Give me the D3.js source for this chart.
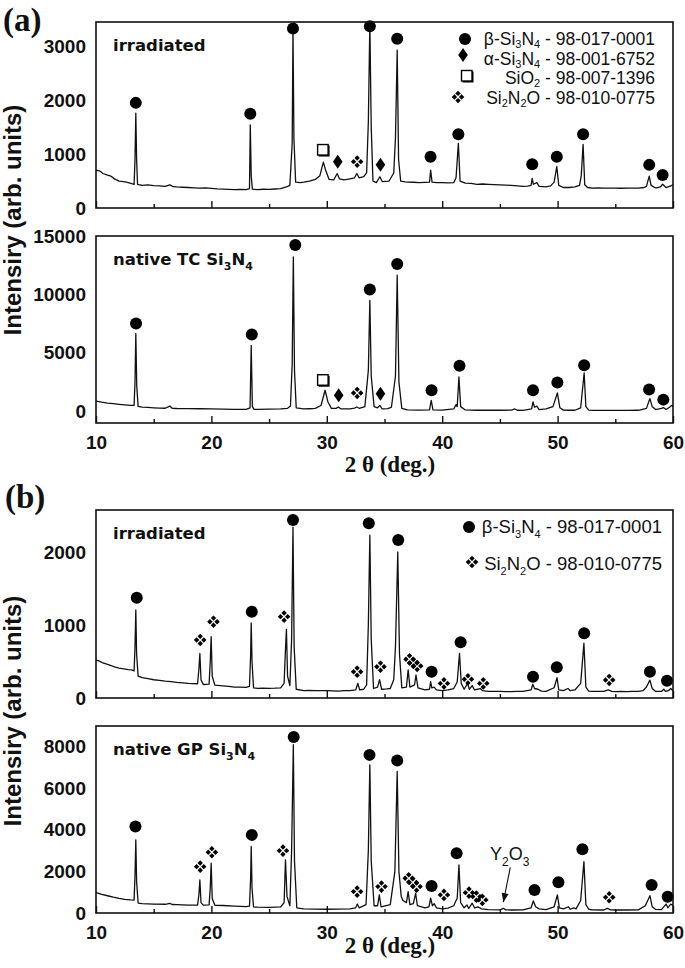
<!DOCTYPE html>
<html>
<head>
<meta charset="utf-8">
<script src="https://cdn.jsdelivr.net/npm/d3@7"></script>
<style>
  html, body { margin: 0; padding: 0; background: #fff; }
  svg { display: block; }
</style>
</head>
<body>
<svg id="chart" width="685" height="968"></svg>
<script>
// ---------------- DATA ----------------
const xMajorTicks = [10, 20, 30, 40, 50, 60];
const xMinorTicks = [15, 25, 35, 45, 55];
const yTicksIrrA = [0, 1000, 2000, 3000];
const yTicksNatA = [0, 5000, 10000, 15000];
const yTicksIrrB = [0, 1000, 2000];
const yTicksNatB = [0, 2000, 4000, 6000, 8000];

// Panel (a) irradiated: [2theta, intensity]
const irrA = [[10.0,700],[10.3,690],[10.6,640],[11.0,610],[11.3,590],[11.6,540],[12.0,500],[12.4,490],[12.8,470],[13.1,450],[13.3,440],[13.38,900],[13.45,1760],[13.52,900],[13.6,440],[14.0,420],[14.5,430],[15,415],[15.5,410],[16,400],[16.4,430],[16.7,395],[17,390],[17.5,385],[18,380],[18.5,375],[19,370],[19.5,372],[20,365],[20.5,355],[21,350],[21.5,345],[22,340],[22.5,345],[23,340],[23.3,360],[23.37,1540],[23.45,600],[23.55,350],[24,340],[24.5,348],[25,345],[25.5,352],[26,360],[26.5,390],[26.8,420],[27.0,1200],[27.07,3300],[27.15,1300],[27.3,480],[27.7,470],[28,480],[28.5,500],[29.0,530],[29.4,600],[29.7,850],[29.9,700],[30.2,530],[30.6,520],[30.9,640],[31.1,540],[31.5,520],[32,540],[32.4,560],[32.6,640],[32.8,560],[33.2,580],[33.45,650],[33.6,1600],[33.73,3420],[33.85,1500],[34.0,500],[34.3,470],[34.6,580],[34.8,490],[35.1,495],[35.4,500],[35.8,650],[35.95,1300],[36.1,2930],[36.22,900],[36.4,500],[36.8,485],[37,480],[37.5,478],[38,470],[38.5,475],[38.9,480],[39.0,700],[39.12,480],[39.5,470],[40,470],[40.5,465],[41,470],[41.2,560],[41.4,1200],[41.55,500],[42,460],[42.5,455],[43,440],[43.5,445],[44,440],[44.5,435],[45,430],[45.5,425],[46,420],[46.5,410],[47,400],[47.4,405],[47.7,420],[47.8,550],[47.9,440],[48.2,470],[48.4,400],[48.7,395],[49,390],[49.4,410],[49.7,480],[49.93,770],[50.1,420],[50.5,380],[51,380],[51.5,390],[51.9,420],[52.05,600],[52.21,1180],[52.35,430],[52.6,380],[53,370],[53.5,372],[54,370],[54.5,368],[55,370],[55.5,366],[56,370],[56.5,368],[57,370],[57.5,380],[57.7,400],[57.94,590],[58.1,420],[58.5,370],[58.9,390],[59.1,440],[59.4,380],[59.7,400],[60,430]];

// Panel (a) native TC Si3N4
const natA = [[10,880],[10.5,780],[11,700],[11.5,650],[12,600],[12.5,550],[13,510],[13.3,500],[13.38,2500],[13.45,6660],[13.53,2200],[13.65,420],[14,360],[14.5,330],[15,300],[15.5,280],[16,260],[16.4,450],[16.6,260],[17,240],[18,230],[19,220],[20,200],[21,180],[22,170],[23,170],[23.35,300],[23.45,5650],[23.55,400],[23.7,160],[24,160],[25,180],[26,200],[26.6,260],[26.85,450],[27.0,4000],[27.1,13220],[27.2,3500],[27.35,300],[28,200],[28.5,220],[29,250],[29.5,500],[29.85,1800],[30.1,800],[30.4,250],[30.8,250],[31.0,370],[31.2,220],[32,200],[32.4,280],[32.6,370],[32.8,260],[33.3,400],[33.6,3500],[33.73,9500],[33.85,3000],[34.1,400],[34.4,300],[34.6,510],[34.8,200],[35.3,230],[35.6,350],[35.95,3000],[36.1,11650],[36.25,2500],[36.5,250],[37,120],[38,100],[38.9,130],[39.05,940],[39.2,130],[40,100],[41,200],[41.2,570],[41.3,400],[41.45,2940],[41.6,400],[42,120],[43,90],[44,110],[45,90],[46,100],[46.3,200],[46.5,90],[47,80],[47.75,200],[47.87,800],[48.0,350],[48.2,450],[48.4,150],[49,200],[49.6,400],[49.98,1570],[50.2,300],[50.5,100],[51,90],[51.5,90],[52.0,300],[52.3,3280],[52.45,400],[52.7,100],[53,80],[54,80],[55,80],[56,80],[57,90],[57.7,250],[58.0,1090],[58.2,400],[58.5,150],[59,250],[59.16,320],[59.4,150],[59.7,350],[59.9,510],[60,400]];

// Panel (b) irradiated
const irrB = [[10,520],[10.3,505],[10.6,480],[11,460],[11.3,445],[11.6,425],[12,410],[12.4,400],[12.8,390],[13.1,384],[13.3,370],[13.38,700],[13.45,1205],[13.52,600],[13.65,300],[14,280],[14.5,265],[15,250],[15.5,240],[16,230],[16.5,225],[17,215],[17.5,208],[18,200],[18.8,195],[18.92,400],[19.0,610],[19.1,250],[19.3,185],[19.8,190],[19.9,500],[19.98,840],[20.07,300],[20.3,175],[21,165],[21.5,158],[22,150],[22.5,148],[23,145],[23.3,160],[23.4,600],[23.45,1030],[23.52,500],[23.65,140],[24,133],[24.5,136],[25,133],[25.5,135],[26,140],[26.3,200],[26.4,600],[26.5,940],[26.6,300],[26.8,170],[26.95,800],[27.07,2340],[27.17,700],[27.35,120],[28,100],[28.5,105],[29,100],[29.5,102],[30,100],[30.5,98],[31,95],[31.5,100],[32,100],[32.5,110],[32.69,200],[32.85,110],[33.2,120],[33.45,180],[33.6,1000],[33.73,2230],[33.85,800],[34.05,130],[34.4,150],[34.57,250],[34.75,120],[35.2,125],[35.5,130],[35.8,250],[35.95,700],[36.15,2000],[36.3,600],[36.5,140],[36.9,150],[37.05,385],[37.2,150],[37.6,180],[37.73,315],[37.9,140],[38.5,110],[38.9,120],[39.0,225],[39.1,140],[39.3,150],[39.5,110],[40,100],[40.5,110],[41,130],[41.3,220],[41.5,610],[41.65,200],[41.9,120],[42.2,200],[42.35,120],[42.6,170],[42.8,110],[43.3,130],[43.5,100],[44,90],[44.5,92],[45,90],[45.5,88],[46,88],[46.5,90],[47,90],[47.7,110],[47.85,190],[48.0,130],[48.3,120],[48.6,95],[49,90],[49.7,140],[49.95,280],[50.1,110],[50.5,100],[50.9,130],[51.1,100],[51.5,110],[52.0,200],[52.28,750],[52.45,150],[52.7,95],[53,90],[53.5,92],[54,90],[54.4,110],[54.7,90],[55,88],[55.5,90],[56,88],[56.5,90],[57,90],[57.4,100],[57.7,150],[58.0,245],[58.2,130],[58.5,90],[59,90],[59.2,120],[59.35,90],[59.6,100],[59.8,130],[60,100]];

// Panel (b) native GP Si3N4
const natB = [[10,980],[10.5,900],[11,830],[11.5,760],[12,700],[12.5,660],[13,630],[13.3,620],[13.38,1800],[13.45,3520],[13.52,1500],[13.65,480],[14,450],[15,430],[16,420],[16.4,460],[16.6,410],[17,400],[18,380],[18.8,380],[18.92,900],[19.0,1590],[19.1,500],[19.3,380],[19.8,390],[19.9,1200],[19.98,2400],[20.07,700],[20.3,370],[21,360],[22,330],[23,310],[23.3,330],[23.4,1700],[23.45,3200],[23.52,1200],[23.65,290],[24,280],[25,270],[26,290],[26.3,500],[26.42,2550],[26.55,800],[26.8,350],[26.95,3000],[27.1,8100],[27.2,2500],[27.4,250],[28,200],[29,190],[30,180],[31,190],[32,200],[32.5,250],[32.65,430],[32.8,250],[33.4,400],[33.6,3000],[33.73,7130],[33.85,2500],[34.1,350],[34.4,350],[34.55,870],[34.7,300],[35.5,400],[35.9,2000],[36.1,6810],[36.25,2000],[36.45,800],[36.6,600],[36.9,500],[37.05,1030],[37.2,400],[37.5,450],[37.7,950],[37.85,350],[38.5,250],[38.85,300],[39.0,710],[39.15,350],[39.3,450],[39.5,250],[40,200],[40.5,230],[41.0,350],[41.15,545],[41.3,700],[41.45,2310],[41.6,500],[41.9,250],[42.15,385],[42.3,220],[42.6,470],[42.8,250],[43.1,300],[43.4,200],[44,160],[45,150],[45.3,225],[45.5,150],[46,145],[47,150],[47.7,250],[47.9,580],[48.1,300],[48.4,200],[49,160],[49.7,300],[49.98,870],[50.15,250],[50.5,200],[50.95,300],[51.1,180],[51.4,250],[51.6,200],[52.0,600],[52.28,2470],[52.45,400],[52.7,180],[53,150],[54,145],[54.3,225],[54.6,150],[55,145],[56,145],[57,150],[57.6,350],[58.0,835],[58.2,300],[58.5,170],[59,160],[59.4,430],[59.55,250],[59.8,430],[60,350]];

// Phase markers: [2theta, intensity, type]  b = beta-Si3N4, a = alpha-Si3N4, s = SiO2, o = Si2N2O
const markIrrA = [[13.45,1950,"b"],[23.37,1750,"b"],[27.07,3330,"b"],[29.68,1075,"s"],[30.95,860,"a"],[32.63,860,"o"],[33.73,3370,"b"],[34.65,800,"a"],[36.1,3140,"b"],[38.99,950,"b"],[41.4,1370,"b"],[47.8,810,"b"],[49.93,950,"b"],[52.21,1370,"b"],[57.94,800,"b"],[59.1,610,"b"]];
const markNatA = [[13.47,7510,"b"],[23.5,6570,"b"],[27.27,14230,"b"],[29.68,2660,"s"],[31.03,1370,"a"],[32.63,1570,"o"],[33.73,10430,"b"],[34.65,1510,"a"],[36.1,12600,"b"],[39.08,1800,"b"],[41.5,3890,"b"],[47.87,1800,"b"],[49.98,2460,"b"],[52.3,3940,"b"],[57.93,1860,"b"],[59.16,1000,"b"]];
const markIrrB = [[13.53,1374,"b"],[19.03,795,"o"],[20.18,1045,"o"],[23.5,1182,"b"],[26.3,1114,"o"],[27.07,2438,"b"],[32.63,360,"o"],[33.64,2393,"b"],[34.65,429,"o"],[36.19,2164,"b"],[37.17,530,"o"],[37.5,480,"o"],[37.83,438,"o"],[39.08,360,"b"],[40.15,200,"o"],[41.6,763,"b"],[42.23,256,"o"],[43.56,200,"o"],[47.87,292,"b"],[49.93,420,"b"],[52.3,886,"b"],[54.47,247,"o"],[58.0,360,"b"],[59.48,237,"b"]];
const markNatB = [[13.42,4160,"b"],[19.03,2230,"o"],[20.04,2925,"o"],[23.5,3760,"b"],[26.2,3000,"o"],[27.13,8470,"b"],[32.63,1030,"o"],[33.7,7610,"b"],[34.74,1270,"o"],[36.1,7340,"b"],[37.1,1670,"o"],[37.45,1470,"o"],[37.78,1270,"o"],[39.08,1300,"b"],[40.15,870,"o"],[41.25,2877,"b"],[42.32,980,"o"],[42.96,790,"o"],[43.48,630,"o"],[48.0,1110,"b"],[50.07,1480,"b"],[52.15,3070,"b"],[54.47,757,"o"],[58.15,1350,"b"],[59.54,785,"b"]];

// Legends
const legendA = [
  {type:"b", parts:[["β-Si",""],["3","sub"],["N",""],["4","sub"],[" - 98-017-0001",""]]},
  {type:"a", parts:[["α-Si",""],["3","sub"],["N",""],["4","sub"],[" - 98-001-6752",""]]},
  {type:"s", parts:[["SiO",""],["2","sub"],[" - 98-007-1396",""]]},
  {type:"o", parts:[["Si",""],["2","sub"],["N",""],["2","sub"],["O - 98-010-0775",""]]}
];
const legendB = [
  {type:"b", parts:[["β-Si",""],["3","sub"],["N",""],["4","sub"],[" - 98-017-0001",""]]},
  {type:"o", parts:[["Si",""],["2","sub"],["N",""],["2","sub"],["O - 98-010-0775",""]]}
];

// ---------------- DRAW ----------------
const svg = d3.select("#chart");
const L = 96, R = 673;
const x = d3.scaleLinear().domain([10, 60]).range([L, R]);

const panels = [
  {data: irrA, marks: markIrrA, top: 22,  bottom: 208, domain: [0, 3450],      ticks: yTicksIrrA, xlabels: false, label: [["irradiated",""]]},
  {data: natA, marks: markNatA, top: 236, bottom: 423, domain: [-1000, 15000], ticks: yTicksNatA, xlabels: true,  label: [["native TC Si",""],["3","sub"],["N",""],["4","sub"]]},
  {data: irrB, marks: markIrrB, top: 510, bottom: 698, domain: [0, 2575],      ticks: yTicksIrrB, xlabels: false, label: [["irradiated",""]]},
  {data: natB, marks: markNatB, top: 726, bottom: 913, domain: [0, 9000],      ticks: yTicksNatB, xlabels: true,  label: [["native GP Si",""],["3","sub"],["N",""],["4","sub"]]}
];

function drawMarker(g, type, cx, cy) {
  if (type === "b") {
    g.append("circle").attr("cx", cx).attr("cy", cy).attr("r", 6).attr("fill", "#000");
  } else if (type === "a") {
    g.append("path").attr("d", `M${cx},${cy-7}L${cx+4.8},${cy}L${cx},${cy+7}L${cx-4.8},${cy}Z`).attr("fill", "#000");
  } else if (type === "s") {
    g.append("rect").attr("x", cx-4.5).attr("y", cy-4.5).attr("width", 11).attr("height", 11).attr("fill", "#000");
    g.append("rect").attr("x", cx-5.5).attr("y", cy-5.5).attr("width", 10.5).attr("height", 10.5)
      .attr("fill", "#fff").attr("stroke", "#000").attr("stroke-width", 1.4);
  } else if (type === "o") {
    const d = 3.6, h = 2.7;
    [[0,-d],[d,0],[0,d],[-d,0]].forEach(([dx,dy]) => {
      const px = cx+dx, py = cy+dy;
      g.append("path").attr("d", `M${px},${py-h}L${px+h},${py}L${px},${py+h}L${px-h},${py}Z`).attr("fill", "#000");
    });
  }
}

function richText(sel, parts, subSize, subShift) {
  let prevSub = false;
  parts.forEach(([t, kind]) => {
    const isSub = kind === "sub";
    const ts = sel.append("tspan").text(t);
    if (isSub) ts.attr("font-size", subSize).attr("dy", subShift);
    else if (prevSub) ts.attr("dy", -subShift);
    prevSub = isSub;
  });
}

const defs = svg.append("defs");

panels.forEach((p, i) => {
  const y = d3.scaleLinear().domain(p.domain).range([p.bottom, p.top]);
  const g = svg.append("g");

  defs.append("clipPath").attr("id", "clip" + i)
    .append("rect").attr("x", L).attr("y", p.top).attr("width", R - L).attr("height", p.bottom - p.top);

  // curve
  const line = d3.line().x(d => x(d[0])).y(d => y(d[1]));
  g.append("path").datum(p.data).attr("d", line)
    .attr("fill", "none").attr("stroke", "#111").attr("stroke-width", 1.3)
    .attr("stroke-linejoin", "round")
    .attr("clip-path", `url(#clip${i})`);

  // markers
  p.marks.forEach(([mx, my, t]) => drawMarker(g, t, x(mx), y(my)));

  // frame
  g.append("rect").attr("x", L).attr("y", p.top).attr("width", R - L).attr("height", p.bottom - p.top)
    .attr("fill", "none").attr("stroke", "#111").attr("stroke-width", 1.6);

  // x axis (inward ticks)
  const xAxis = d3.axisBottom(x).tickValues(xMajorTicks).tickSizeInner(-7).tickSizeOuter(0).tickPadding(10)
    .tickFormat(p.xlabels ? d3.format("d") : () => "");
  const xg = g.append("g").attr("transform", `translate(0,${p.bottom})`).call(xAxis);
  xg.select(".domain").remove();
  xg.selectAll(".tick line").attr("stroke", "#111").attr("stroke-width", 1.4);
  xg.selectAll(".tick text").attr("font-family", "'Liberation Sans', Arial, sans-serif")
    .attr("font-weight", "bold").attr("font-size", 19).attr("fill", "#111").attr("dy", "0.85em");

  const xMinor = d3.axisBottom(x).tickValues(xMinorTicks).tickSizeInner(-4).tickSizeOuter(0).tickFormat(() => "");
  const xmg = g.append("g").attr("transform", `translate(0,${p.bottom})`).call(xMinor);
  xmg.select(".domain").remove();
  xmg.selectAll(".tick line").attr("stroke", "#111").attr("stroke-width", 1.4);

  // y axis (labels only)
  const yAxis = d3.axisLeft(y).tickValues(p.ticks).tickSize(0).tickPadding(10).tickFormat(d3.format("d"));
  const yg = g.append("g").attr("transform", `translate(${L},0)`).call(yAxis);
  yg.select(".domain").remove();
  yg.selectAll(".tick text").attr("font-family", "'Liberation Sans', Arial, sans-serif")
    .attr("font-weight", "bold").attr("font-size", 19).attr("fill", "#111");

  // panel label
  const lbl = g.append("text").attr("x", 113).attr("y", p.top + 29)
    .attr("font-family", "'DejaVu Sans', sans-serif").attr("font-weight", "bold")
    .attr("font-size", 16.5).attr("fill", "#111");
  richText(lbl, p.label, 11, 5);
});

// Legends
function drawLegend(items, rows, markerXs, markerYs, endX, fs, subShift) {
  items.forEach((it, k) => {
    const t = svg.append("text").attr("x", endX).attr("y", rows[k]).attr("text-anchor", "end")
      .attr("font-family", "'Liberation Sans', Arial, sans-serif").attr("font-size", fs).attr("fill", "#111");
    richText(t, it.parts, 11, subShift);
    drawMarker(svg, it.type, markerXs[k], markerYs[k]);
  });
}
drawLegend(legendA, [45, 64.5, 84, 103.5], [465, 463, 467, 458], [39, 55, 76, 97], 655, 17.5, 3);
drawLegend(legendB, [533, 570], [469, 472], [527, 562], 662, 18.5, 5);

// Y2O3 annotation (panel b bottom)
{
  const p = panels[3];
  const y = d3.scaleLinear().domain(p.domain).range([p.bottom, p.top]);
  const ann = svg.append("text").attr("x", x(44.15)).attr("y", y(2560))
    .attr("font-family", "'Liberation Sans', Arial, sans-serif").attr("font-size", 18).attr("fill", "#111");
  richText(ann, [["Y",""],["2","sub"],["O",""],["3","sub"]], 12, 6);
  const x1 = x(45.9), y1 = y(2200), x2 = x(45.3), y2 = y(520);
  svg.append("line").attr("x1", x1).attr("y1", y1).attr("x2", x2).attr("y2", y2)
    .attr("stroke", "#111").attr("stroke-width", 1.1);
  const ang = Math.atan2(y2 - y1, x2 - x1);
  const ah = 9, aw = 3.5;
  const bx = x2 - ah * Math.cos(ang), by = y2 - ah * Math.sin(ang);
  svg.append("path").attr("d",
    `M${x2},${y2}L${bx + aw*Math.sin(ang)},${by - aw*Math.cos(ang)}L${bx - aw*Math.sin(ang)},${by + aw*Math.cos(ang)}Z`)
    .attr("fill", "#111");
}

// Axis titles
const yTitles = [220, 711];
yTitles.forEach(cy => {
  svg.append("text").attr("transform", `translate(21,${cy}) rotate(-90)`).attr("text-anchor", "middle")
    .attr("font-family", "'Liberation Sans', Arial, sans-serif").attr("font-weight", "bold")
    .attr("font-size", 24).attr("fill", "#111").text("Intensiry (arb. units)");
});
const xTitles = [472, 953];
xTitles.forEach(by => {
  svg.append("text").attr("x", 390).attr("y", by).attr("text-anchor", "middle")
    .attr("font-family", "'Liberation Serif', 'Times New Roman', serif").attr("font-weight", "bold")
    .attr("font-size", 23).attr("fill", "#111").text("2 θ (deg.)");
});

// Figure letters
svg.append("text").attr("x", 3).attr("y", 31).attr("font-family", "'Liberation Serif', 'Times New Roman', serif")
  .attr("font-weight", "bold").attr("font-size", 33).attr("fill", "#111").text("(a)");
svg.append("text").attr("x", 5).attr("y", 508).attr("font-family", "'Liberation Serif', 'Times New Roman', serif")
  .attr("font-weight", "bold").attr("font-size", 33).attr("fill", "#111").text("(b)");
</script>
</body>
</html>
